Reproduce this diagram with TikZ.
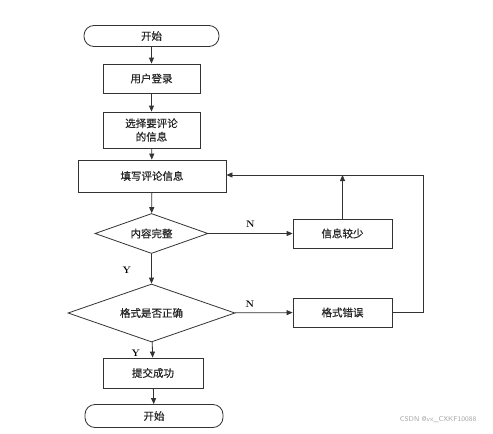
\documentclass[tikz,border=0pt]{standalone}
\usepackage{fontspec}
\newfontfamily\cjk[FakeBold=0.6]{Noto Sans CJK SC}
\usetikzlibrary{arrows.meta,shapes.geometric}
\tikzset{
  every node/.style={font=\cjk\fontsize{10.5}{13.5}\selectfont, text=black!85},
  proc/.style={draw=black!80, line width=0.8pt, minimum width=97pt, minimum height=29pt, inner sep=0pt, align=center},
  term/.style={draw=black!80, line width=0.8pt, rounded corners=10pt, minimum width=135pt, minimum height=21pt, inner sep=0pt},
  decide/.style={draw=black!80, line width=0.8pt, diamond, inner sep=0pt},
  flow/.style={draw=black!80, line width=0.8pt, -{Triangle[length=6pt,width=5pt]}},
  plain/.style={draw=black!80, line width=0.8pt},
  lbl/.style={font=\fontfamily{lmr}\bfseries\fontsize{9.5}{10}\selectfont, text=black}
}
\begin{document}
\begin{tikzpicture}[x=1pt,y=-1pt]
\useasboundingbox (0,0) rectangle (493,434);
\fill[white] (0,0) rectangle (493,434);
\node[term] (start) at (151.5,36) {开始};
\node[proc] (login) at (151.5,78.5) {用户登录};
\node[proc, minimum height=36pt] (select) at (151.5,130) {选择要评论\\的信息};
\node[proc, minimum width=148pt, minimum height=32pt] (fill) at (152,176) {填写评论信息};
\node[decide, aspect=2.8, minimum width=113pt, minimum height=40pt] (d1) at (151.5,233.5) {内容完整};
\node[decide, aspect=2.9, minimum width=167pt, minimum height=58pt] (d2) at (151.5,313) {格式是否正确};
\node[proc, minimum width=100pt, minimum height=30pt] (ok) at (153,373) {提交成功};
\node[term, minimum width=138pt, minimum height=23pt] (end) at (154,416) {开始};
\node[proc, minimum width=99pt] (less) at (342.5,233.5) {信息较少};
\node[proc, minimum width=99pt] (err) at (342.5,312.5) {格式错误};
\coordinate (corner) at (423,312.5);
\coordinate (top) at (423,175);
\coordinate (join) at (342.5,175);

\draw[flow] (start) -- (login);
\draw[flow] (login) -- (select);
\draw[flow] (select) -- (fill);
\draw[flow] (fill) -- (d1);
\draw[flow] (d1) -- node[lbl, pos=0.5, above=2pt] {N} (less);
\draw[flow] (d1) -- node[lbl, pos=0.55, left=17pt] {Y} (d2);
\draw[flow] (d2) -- node[lbl, pos=0.26, above=2pt] {N} (err);
\draw[flow] (d2) -- node[lbl, pos=0.7, left=9pt] {Y} (ok);
\draw[flow] (ok) -- (end);
\draw[flow] (less) -- (join);
\draw[plain] (err) -- (corner) -- (top);
\draw[flow] (top) -- (fill.east |- top);

\node[font=\sffamily\fontsize{7}{8}\selectfont, text=black!35] (mark) at (438,420) {CSDN @vx\_CXKF10088};
\end{tikzpicture}
\end{document}
